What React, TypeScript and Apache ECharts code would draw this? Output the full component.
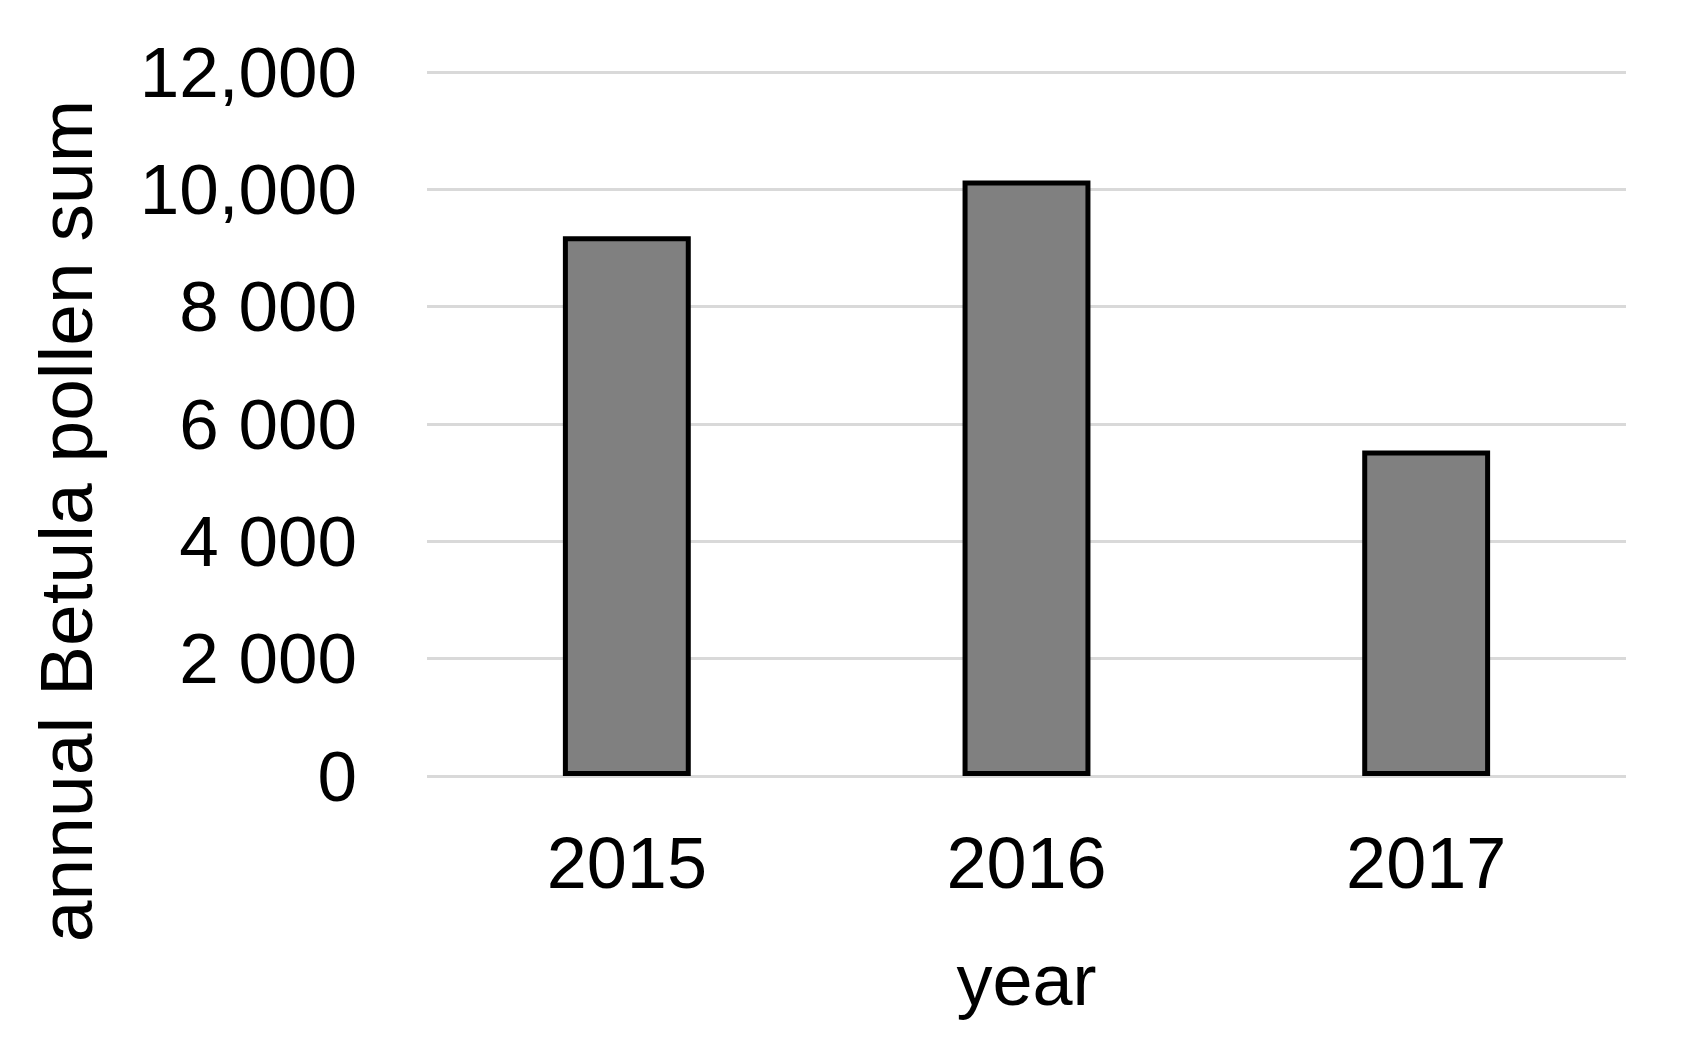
import React, { useEffect, useRef } from "react";
import * as echarts from "echarts";

const years = ["2015", "2016", "2017"];
const pollenSums = [9200, 10150, 5550];
const yTickValues = [0, 2000, 4000, 6000, 8000, 10000, 12000];
const yTickLabels = ["0", "2 000", "4 000", "6 000", "8 000", "10,000", "12,000"];
const xAxisTitle = "year";
const yAxisTitle = "annual Betula pollen sum";

export default function App() {
  const ref = useRef<HTMLDivElement>(null);
  useEffect(() => {
    if (!ref.current) return;
    const chart = echarts.init(ref.current, null, { renderer: "svg" });
    const font = "'Liberation Sans', Arial, sans-serif";
    chart.setOption({
      animation: false,
      backgroundColor: "#ffffff",
      grid: { left: 427, right: 66, top: 72, bottom: 265, containLabel: false },
      graphic: [
        {
          type: "text",
          x: 66,
          y: 521,
          rotation: Math.PI / 2,
          style: {
            text: yAxisTitle,
            fontFamily: font,
            fontSize: 75,
            fill: "#000",
            align: "center",
            verticalAlign: "middle",
          },
        },
      ],
      xAxis: {
        type: "category",
        data: years,
        name: xAxisTitle,
        nameLocation: "middle",
        nameGap: 168,
        nameTextStyle: { fontFamily: font, fontSize: 72, color: "#000", lineHeight: 72 },
        axisLine: { show: false },
        axisTick: { show: false },
        axisLabel: { fontFamily: font, fontSize: 72, color: "#000", margin: 51, lineHeight: 72 },
      },
      yAxis: {
        type: "value",
        min: 0,
        max: 12000,
        interval: 2000,
        axisLine: { show: false },
        axisTick: { show: false },
        axisLabel: {
          fontFamily: font,
          fontSize: 71,
          color: "#000",
          margin: 70,
          formatter: (v: number) => {
            const i = yTickValues.indexOf(v);
            return i >= 0 ? yTickLabels[i] : String(v);
          },
        },
        splitLine: { lineStyle: { color: "#d9d9d9", width: 3 } },
      },
      series: [
        {
          type: "bar",
          data: pollenSums,
          barWidth: "32%",
          itemStyle: { color: "#808080", borderColor: "#000", borderWidth: 5 },
        },
      ],
    });
    return () => chart.dispose();
  }, []);
  return (
    <div
      ref={ref}
      style={{ position: "absolute", left: 0, top: 0, width: 1692, height: 1041 }}
    />
  );
}
